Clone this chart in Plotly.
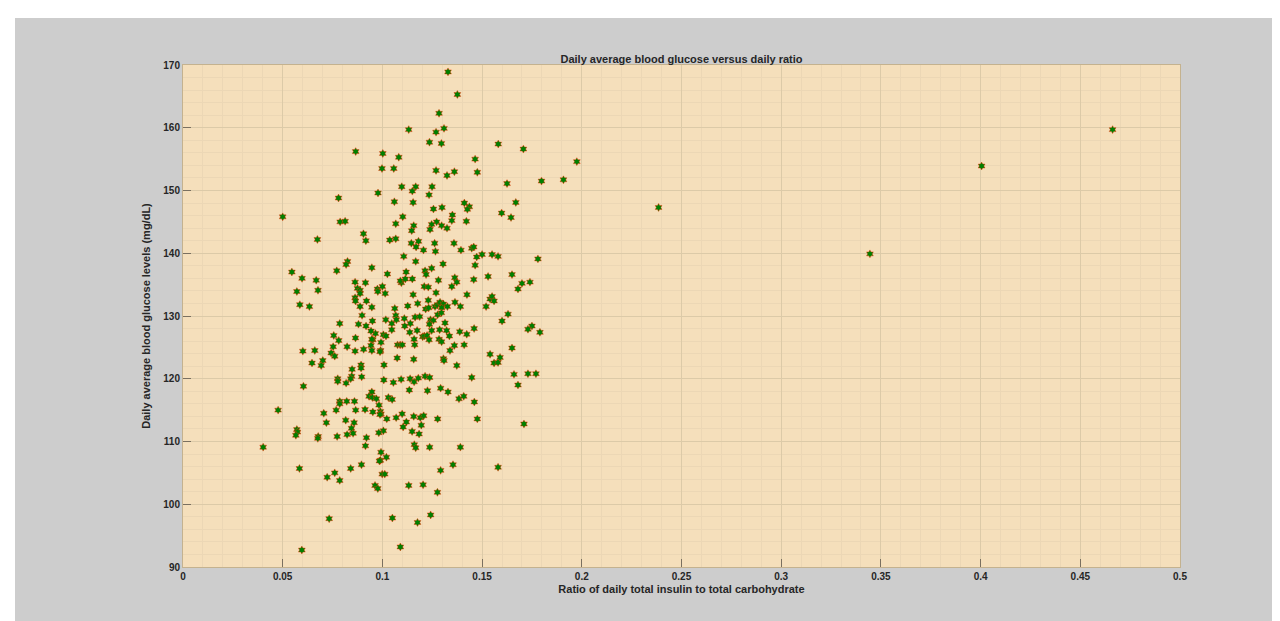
import plotly.graph_objects as go

# (ratio, glucose) pairs
pts = [
    # upper region
    (0.1329,168.9),(0.1376,165.3),(0.1284,162.3),(0.1132,159.7),(0.1309,159.9),(0.1269,159.3),
    (0.1236,157.7),(0.1296,157.5),(0.1581,157.4),(0.1707,156.6),(0.0866,156.2),(0.1002,155.9),
    (0.1082,155.3),(0.1465,155.0),(0.0998,153.5),(0.1057,153.5),(0.1269,153.2),(0.1361,153.0),
    (0.1476,152.9),(0.1324,152.4),(0.1625,151.1),(0.1097,150.6),(0.1167,150.6),(0.1249,150.6),
    (0.1150,149.9),(0.0978,149.6),(0.1234,149.3),(0.0780,148.8),(0.1060,148.2),(0.1154,148.1),
    (0.1411,148.0),(0.1669,148.1),(0.1299,147.3),(0.1256,147.05),(0.1436,147.4),(0.1426,147.0),
    (0.1351,146.1),(0.1598,146.4),(0.1645,145.7),(0.1102,145.8),(0.0500,145.8),
    # middle region
    (0.0788,145.0),(0.0813,145.1),(0.0674,142.2),(0.0905,143.1),(0.0917,142.0),(0.1067,144.7),
    (0.1157,144.4),(0.1147,143.6),(0.1037,142.1),(0.1067,142.3),(0.1145,141.6),(0.1181,141.9),
    (0.1169,141.0),(0.1206,140.5),(0.1348,145.2),(0.1272,145.0),(0.1247,144.6),(0.1297,144.4),
    (0.1324,144.0),(0.1239,143.8),(0.1421,145.1),(0.1262,141.6),(0.1359,141.6),(0.1266,140.3),
    (0.1394,140.5),(0.1448,140.8),(0.1458,141.0),(0.1473,139.4),(0.1107,139.5),(0.1167,138.7),
    (0.1304,138.3),(0.1465,138.1),(0.0825,138.7),(0.0818,138.2),(0.0771,137.2),(0.0947,137.7),
    (0.1025,136.7),(0.1119,137.0),(0.1214,137.2),(0.1219,136.6),(0.1247,137.6),(0.0546,137.0),
    (0.0597,136.0),(0.0668,135.7),(0.0571,133.9),(0.0677,134.1),(0.0586,131.8),(0.0634,131.5),
    (0.0863,135.4),(0.0915,135.3),(0.0875,134.4),(0.0888,134.1),(0.0888,133.6),(0.0863,132.9),
    (0.0865,132.4),(0.0920,132.4),(0.0888,131.5),(0.0947,131.4),(0.0975,134.3),(0.1000,134.7),
    (0.0977,133.9),(0.1014,133.6),(0.1095,135.3),(0.1090,135.6),(0.1115,135.9),(0.1150,135.9),
    (0.1210,134.7),(0.1230,134.6),(0.1154,133.4),(0.1269,133.7),(0.1281,135.7),(0.1363,136.1),
    (0.1373,135.4),(0.1348,134.7),(0.1458,135.8),(0.1424,133.4),(0.1177,132.0),(0.1230,132.5),
    (0.1217,131.1),(0.1232,131.3),(0.1264,131.5),(0.1276,131.8),(0.1289,132.2),(0.1306,131.9),
    (0.1326,131.5),(0.1297,131.3),(0.1364,132.2),(0.1391,131.5),(0.1127,131.6),(0.1062,131.2),
    (0.1067,130.1),(0.1017,129.4),(0.1047,128.8),(0.1070,129.4),(0.1110,129.6),(0.1164,129.8),
    (0.1187,129.9),(0.1140,128.8),(0.1112,128.4),(0.1241,129.4),(0.1277,130.2),(0.1296,130.5),
    (0.1256,129.3),(0.1236,128.7),(0.1314,128.9),(0.1287,127.8),(0.1322,127.7),(0.1247,127.7),
    (0.1174,127.7),(0.1137,127.4),(0.1047,127.8),(0.1005,127.0),(0.1018,126.8),(0.0965,127.2),
    (0.0943,127.6),(0.0950,129.2),(0.0952,126.2),(0.0993,125.8),(0.0880,128.7),(0.0918,128.4),
    (0.0898,130.1),(0.0786,128.8),(0.0756,126.9),(0.0781,126.1),(0.0865,126.5),(0.0823,125.1),
    (0.0753,125.1),(0.0863,124.4),(0.0906,124.7),(0.0947,126.3),(0.0943,125.3),(0.0947,124.5),
    (0.0991,124.5),(0.0988,124.3),(0.1076,125.4),(0.1089,125.4),(0.1100,125.4),(0.1159,126.3),
    (0.1162,125.4),(0.1202,126.7),(0.1210,126.8),(0.1224,126.9),(0.1234,126.2),(0.1284,126.3),
    (0.1297,125.9),(0.1336,126.8),(0.1388,127.5),(0.1423,127.1),(0.1460,128.0),(0.1361,125.3),
    (0.1410,125.4),(0.1339,124.5),(0.1157,123.1),(0.1074,123.3),(0.1306,123.2),(0.1309,122.9),
    (0.1373,122.1),(0.1008,122.2),(0.0893,122.2),(0.0893,121.7),(0.0848,121.5),(0.0701,122.9),
    (0.0693,122.1),(0.0743,124.1),(0.0761,123.6),(0.0647,122.5),(0.0601,124.4),(0.0661,124.5),
    (0.0846,120.4),(0.0841,120.0),(0.0896,120.3),(0.0776,120.0),(0.0776,119.6),(0.0818,119.3),
    (0.1007,119.8),(0.1055,119.4),(0.1094,119.9),(0.1139,120.0),(0.1159,119.5),(0.1180,120.1),
    (0.1214,120.4),(0.1237,120.2),(0.1135,118.2),(0.1226,118.1),(0.1292,118.5),(0.1329,117.9),
    (0.1448,120.2),(0.0604,118.8),(0.0947,117.9),(0.0933,117.2),(0.0950,117.0),(0.0970,116.8),
    (0.0983,115.8),(0.1030,117.0),(0.1049,116.7),(0.0786,116.4),(0.0821,116.4),(0.0860,116.4),
    (0.1384,116.8),(0.1408,117.2),(0.1461,116.3),
    # lower region
    (0.0786,116.0),(0.0706,114.5),(0.0768,115.0),(0.0866,115.0),(0.0719,113.0),(0.0571,111.9),
    (0.0574,111.5),(0.0566,111.0),(0.0678,110.8),(0.0676,110.5),(0.0773,110.8),(0.0816,113.4),
    (0.0858,113.0),(0.0845,112.1),(0.0823,111.1),(0.0853,111.3),(0.0913,115.1),(0.0952,114.7),
    (0.0990,114.8),(0.0993,114.4),(0.0988,114.3),(0.1022,113.6),(0.1069,113.8),(0.1099,114.4),
    (0.1120,113.1),(0.1157,114.0),(0.1190,113.8),(0.1207,114.1),(0.1277,113.6),(0.1104,112.3),
    (0.1149,111.6),(0.1184,111.2),(0.1195,112.6),(0.1005,111.7),(0.0982,111.4),(0.0920,110.6),
    (0.0915,109.3),(0.1476,113.6),(0.0402,109.1),(0.0477,115.0),(0.1160,109.5),(0.1167,109.0),
    (0.1237,109.1),(0.1391,109.1),(0.0993,108.3),(0.1020,107.5),(0.0990,107.0),(0.0985,106.9),
    (0.0895,106.3),(0.0841,105.7),(0.0761,105.0),(0.0786,103.8),(0.0723,104.3),(0.0584,105.7),
    (0.0999,104.8),(0.1012,104.8),(0.0963,103.0),(0.0977,102.5),(0.1132,103.0),(0.1204,103.1),
    (0.1276,101.9),(0.1292,105.4),(0.1354,106.3),(0.0733,97.7),(0.1050,97.8),(0.1176,97.1),
    (0.1242,98.3),(0.0596,92.7),(0.1090,93.2),
    # right side of cluster
    (0.1798,151.5),(0.1908,151.7),(0.1975,154.6),(0.1780,139.1),(0.1500,139.8),(0.1550,139.8),
    (0.1580,139.5),(0.1530,136.3),(0.1650,136.6),(0.1700,135.2),(0.1740,135.4),(0.1680,134.3),
    (0.1540,132.7),(0.1550,133.1),(0.1560,132.4),(0.1520,131.5),(0.1630,130.3),(0.1600,129.2),
    (0.1750,128.4),(0.1730,127.9),(0.1790,127.4),(0.1650,124.9),(0.1540,123.9),(0.1560,122.5),
    (0.1580,122.6),(0.1590,123.4),(0.1660,120.7),(0.1680,119.0),(0.1730,120.8),(0.1770,120.8),
    (0.1710,112.8),(0.1580,105.9),
    # outliers
    (0.2385,147.3),(0.3445,139.9),(0.4005,153.9),(0.4662,159.7),
]
ratio = [p[0] for p in pts]
glucose = [p[1] for p in pts]

x_ticks = [0, 0.05, 0.1, 0.15, 0.2, 0.25, 0.3, 0.35, 0.4, 0.45, 0.5]
x_tick_text = ["0", "0.05", "0.1", "0.15", "0.2", "0.25", "0.3", "0.35", "0.4", "0.45", "0.5"]
y_ticks = [90, 100, 110, 120, 130, 140, 150, 160, 170]

FONT = "Liberation Sans, Arial, sans-serif"
INK = "#262626"

fig = go.Figure()
fig.add_trace(go.Scatter(
    x=ratio, y=glucose, mode="markers",
    marker=dict(symbol="hexagram", size=6, color="#008000",
                line=dict(color="rgba(255,40,0,0.7)", width=0.6)),
    hoverinfo="x+y", showlegend=False,
))

axis_common = dict(
    showline=True, linecolor="#c4b28f", linewidth=1, mirror=True,
    ticks="inside", ticklen=8, tickcolor="#7a7060", tickwidth=1,
    showgrid=True, gridcolor="#dccaa8", gridwidth=1,
    zeroline=False,
    tickfont=dict(family=FONT, size=10, color=INK, weight="bold"),
)

fig.update_xaxes(
    range=[0, 0.5], tickvals=x_ticks, ticktext=x_tick_text,
    minor=dict(dtick=0.01, showgrid=True, gridcolor="#ecd7b5", gridwidth=1, ticks=""),
    title=dict(text="Ratio of daily total insulin to total carbohydrate",
               font=dict(family=FONT, size=11, color=INK, weight="bold"), standoff=4),
    **axis_common,
)
fig.update_yaxes(
    range=[90, 170], tickvals=y_ticks,
    minor=dict(dtick=2, showgrid=True, gridcolor="#ecd7b5", gridwidth=1, ticks=""),
    title=dict(text="Daily average blood glucose levels (mg/dL)",
               font=dict(family=FONT, size=11, color=INK, weight="bold"), standoff=10),
    **axis_common,
)

top_edge = 1 + 47 / 502.0
left_edge = (7 - 175) / 997.0
fig.update_layout(
    width=1280, height=621,
    paper_bgcolor="#cdcdcd",
    plot_bgcolor="#f5dfbb",
    margin=dict(l=175, r=108, t=57, b=62),
    title=dict(text="<b>Daily average blood glucose versus daily ratio</b>",
               font=dict(family=FONT, size=11, color=INK),
               x=0.5, xref="paper", xanchor="center",
               y=1, yref="paper", yanchor="bottom", pad=dict(b=2)),
    shapes=[
        dict(type="rect", xref="paper", yref="paper", layer="below",
             x0=-1, x1=2, y0=top_edge, y1=2,
             fillcolor="white", line=dict(width=0)),
        dict(type="rect", xref="paper", yref="paper", layer="below",
             x0=-1, x1=left_edge, y0=-1, y1=2,
             fillcolor="white", line=dict(width=0)),
    ],
)

fig.write_html("out.html")
